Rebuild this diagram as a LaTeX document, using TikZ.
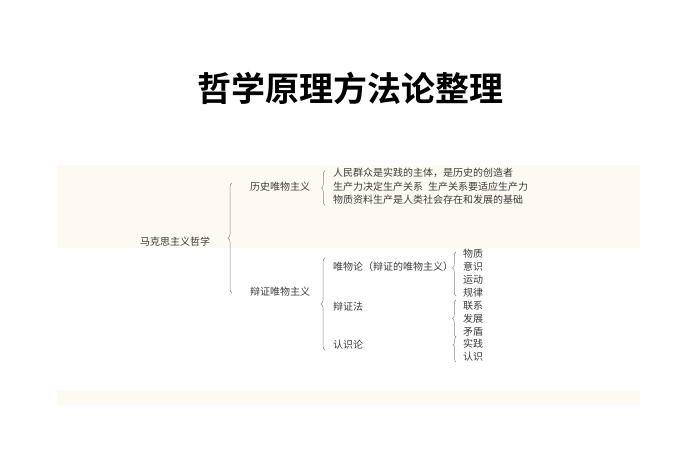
\documentclass[tikz,border=0pt]{standalone}
\usepackage{fontspec}
\newfontfamily\cjk{Noto Sans CJK SC}
\newfontfamily\cjkb{Noto Sans CJK SC Bold}
\usetikzlibrary{decorations.pathreplacing}
\definecolor{cream}{HTML}{FDFAF1}
\definecolor{txt}{HTML}{3C3C3C}
\definecolor{brc}{HTML}{8A8A8A}
\tikzset{
  lbl/.style={anchor=west,inner sep=0pt,text=txt,font=\cjk\fontsize{10}{12}\selectfont},
  bracel/.style={decorate,decoration={brace,amplitude=#1},draw=brc,line width=0.5pt},
  bracel/.default=4pt
}
\begin{document}
\begin{tikzpicture}[x=1pt,y=-1pt]
\useasboundingbox (0,0) rectangle (700,470);
\fill[white] (0,0) rectangle (700,470);
% background bands
\fill[cream] (57,165) rectangle (640,248);
\fill[cream] (57,390) rectangle (640,405);
% title
\node[inner sep=0pt,text=black,font=\cjkb\fontsize{34}{40}\selectfont] (title) at (350,88) {哲学原理方法论整理};
% level 0
\node[lbl] (root) at (140,242) {马克思主义哲学};
% level 1
\node[lbl] (hist) at (250,187) {历史唯物主义};
\node[lbl] (dial) at (250,292) {辩证唯物主义};
% level 2 - history
\node[lbl] (h1) at (333,173) {人民群众是实践的主体，是历史的创造者};
\node[lbl] (h2) at (333,187) {生产力决定生产关系\hspace{0.5em}生产关系要适应生产力};
\node[lbl] (h3) at (333,200) {物质资料生产是人类社会存在和发展的基础};
% level 2 - dialectical
\node[lbl] (d1) at (333,267) {唯物论（辩证的唯物主义）};
\node[lbl] (d2) at (333,307) {辩证法};
\node[lbl] (d3) at (333,345) {认识论};
% level 3
\node[lbl] (m1) at (463,254) {物质};
\node[lbl] (m2) at (463,267) {意识};
\node[lbl] (m3) at (463,280) {运动};
\node[lbl] (m4) at (463,293) {规律};
\node[lbl] (b1) at (463,306) {联系};
\node[lbl] (b2) at (463,319) {发展};
\node[lbl] (b3) at (463,332) {矛盾};
\node[lbl] (r1) at (463,344) {实践};
\node[lbl] (r2) at (463,357) {认识};
% brace end points
\coordinate (A1) at (232,293); \coordinate (A2) at (232,183);
\coordinate (B1) at (325,205); \coordinate (B2) at (325,171);
\coordinate (C1) at (325,350); \coordinate (C2) at (325,258);
\coordinate (D1) at (456,296); \coordinate (D2) at (456,252);
\coordinate (E1) at (456,337); \coordinate (E2) at (456,300);
\coordinate (F1) at (456,362); \coordinate (F2) at (456,337);
% braces
\draw[bracel=4pt] (A1) -- (A2);
\draw[bracel=3.5pt] (B1) -- (B2);
\draw[bracel=4pt] (C1) -- (C2);
\draw[bracel=3.5pt,decoration={aspect=0.64}] (D1) -- (D2);
\draw[bracel=3.5pt] (E1) -- (E2);
\draw[bracel=3pt,decoration={aspect=0.68}] (F1) -- (F2);
\end{tikzpicture}
\end{document}
